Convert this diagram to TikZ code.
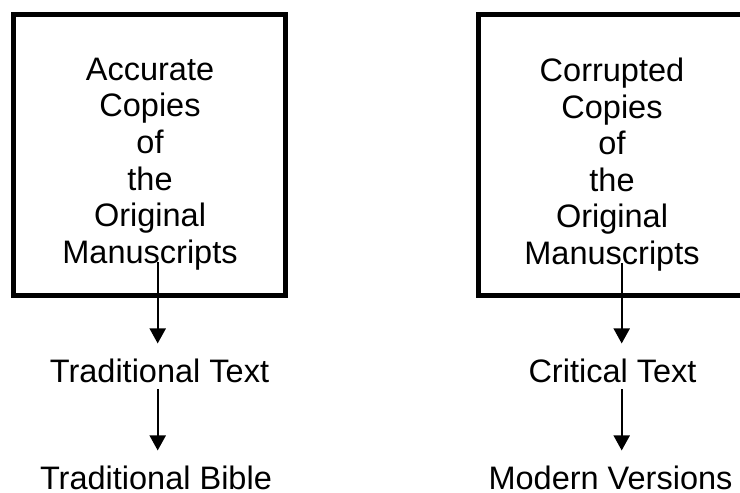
\documentclass[tikz,border=0pt]{standalone}
\usepackage{fontspec}
\setmainfont{Liberation Sans}
\usetikzlibrary{arrows.meta}
\begin{document}
\begin{tikzpicture}[x=1pt,y=-1pt,
  txt/.style={inner sep=0pt, outer sep=0pt, font=\fontsize{32.5pt}{36.6pt}\selectfont},
  bigbox/.style={draw, line width=5pt, minimum width=272pt, minimum height=281pt, inner sep=0pt, outer sep=0pt, anchor=north west},
  arr/.style={line width=2pt, -{Triangle[length=15pt,width=16pt]}}]
\fill[white] (0,0) rectangle (740,493);
\useasboundingbox (0,0) rectangle (740,493);
\clip (0,0) rectangle (740,493);
% boxes
\node[bigbox] (lbox) at (13.5,14) {};
\node[bigbox] (rbox) at (478,14) {};
% box texts
\node[txt, align=center, anchor=north] (acc) at (150,58) {Accurate\\Copies\\of\\the\\Original\\Manuscripts};
\node[txt, align=center, anchor=north] (cor) at (612,58) {Corrupted\\Copies\\of\\the\\Original\\Manuscripts};
% lower texts
\node[txt, anchor=base] (tt) at (159.5,382) {Traditional Text};
\node[txt, anchor=base] (tb) at (156,489) {Traditional Bible};
\node[txt, anchor=base] (ct) at (612.5,382) {Critical Text};
\node[txt, anchor=base] (mv) at (610.5,489) {Modern Versions};
% arrow columns
\coordinate (la) at (157.7,0);
\coordinate (ra) at (621.7,0);
% connectors
\draw[arr] (la |- acc.south) ++(0,-8) -- ([yshift=15pt]tt.north -| la);
\draw[arr] ([yshift=-7pt]tt.south -| la) -- ([yshift=15pt]tb.north -| la);
\draw[arr] (ra |- cor.south) ++(0,-8) -- ([yshift=15pt]ct.north -| ra);
\draw[arr] ([yshift=-7pt]ct.south -| ra) -- ([yshift=15pt]mv.north -| ra);
\end{tikzpicture}
\end{document}
